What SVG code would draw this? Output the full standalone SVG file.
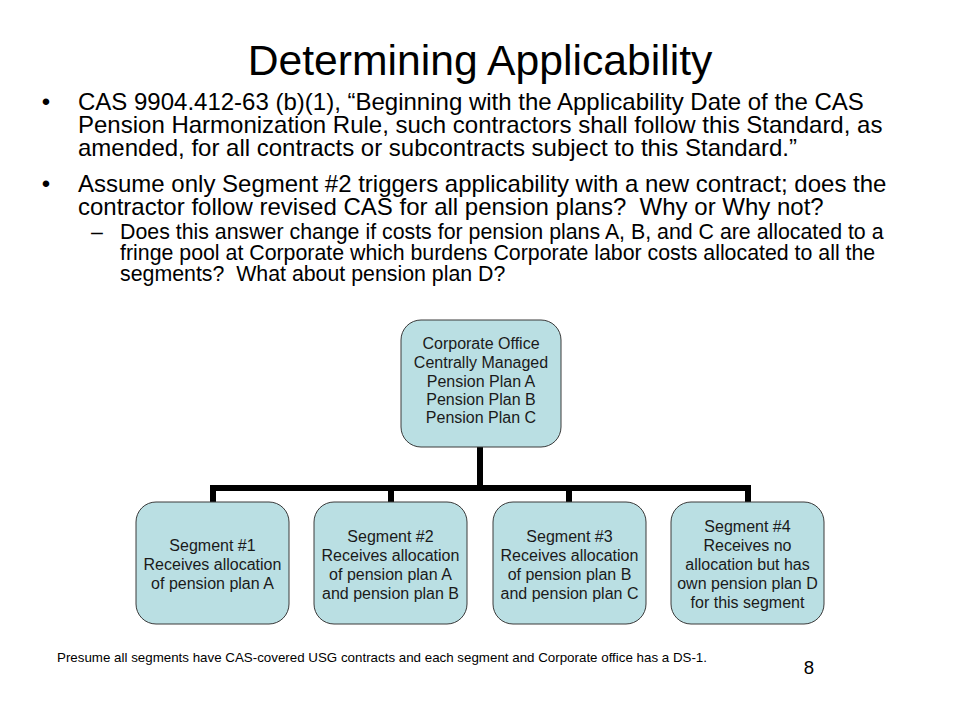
<svg xmlns="http://www.w3.org/2000/svg" width="960" height="720" viewBox="0 0 960 720">
<style>
.t{font-family:"Liberation Sans",Arial,sans-serif;fill:#000;white-space:pre}
.title{font-size:42.67px}
.b{font-size:24px}
.s{font-size:21.33px}
.box{fill:#badfe3;stroke:#3a3a3a;stroke-width:1}
.bt{font-family:"Liberation Sans",Arial,sans-serif;font-size:16px;fill:#1a1a1a;text-anchor:middle}
.con{fill:none;stroke:#000;stroke-width:6;stroke-linejoin:miter;stroke-linecap:butt}
</style>
<rect width="960" height="720" fill="#fff"/>
<text class="t title" x="480" y="75" text-anchor="middle">Determining Applicability</text>
<g id="body">
<text class="t b" x="46" y="110" text-anchor="middle">•</text>
<text class="t b" x="78" y="110">CAS 9904.412-63 (b)(1), “Beginning with the Applicability Date of the CAS</text>
<text class="t b" x="78" y="133">Pension Harmonization Rule, such contractors shall follow this Standard, as</text>
<text class="t b" x="78" y="156">amended, for all contracts or subcontracts subject to this Standard.”</text>
<text class="t b" x="46" y="192" text-anchor="middle">•</text>
<text class="t b" x="78" y="192">Assume only Segment #2 triggers applicability with a new contract; does the</text>
<text class="t b" x="78" y="215" xml:space="preserve">contractor follow revised CAS for all pension plans?  Why or Why not?</text>
<text class="t s" x="91" y="239">–</text>
<text class="t s" x="120" y="239">Does this answer change if costs for pension plans A, B, and C are allocated to a</text>
<text class="t s" x="120" y="260">fringe pool at Corporate which burdens Corporate labor costs allocated to all the</text>
<text class="t s" x="120" y="281" xml:space="preserve">segments?  What about pension plan D?</text>
</g>
<g id="connectors">
<path class="con" d="M480,447 V488"/>
<path class="con" d="M213,502 V488 H748 V502"/>
<path class="con" d="M391,488 V502"/>
<path class="con" d="M569,488 V502"/>
</g>
<g id="corporate">
<rect class="box" x="401" y="320" width="160" height="127" rx="20" ry="20"/>
<text class="bt" x="481" y="349">Corporate Office</text>
<text class="bt" x="481" y="368">Centrally Managed</text>
<text class="bt" x="481" y="387">Pension Plan A</text>
<text class="bt" x="481" y="405">Pension Plan B</text>
<text class="bt" x="481" y="423">Pension Plan C</text>
</g>
<g id="segment1">
<rect class="box" x="136" y="502" width="153" height="122" rx="20" ry="20"/>
<text class="bt" x="212.5" y="551">Segment #1</text>
<text class="bt" x="212.5" y="570">Receives allocation</text>
<text class="bt" x="212.5" y="589">of pension plan A</text>
</g>
<g id="segment2">
<rect class="box" x="314" y="502" width="153" height="122" rx="20" ry="20"/>
<text class="bt" x="390.5" y="542">Segment #2</text>
<text class="bt" x="390.5" y="561">Receives allocation</text>
<text class="bt" x="390.5" y="580">of pension plan A</text>
<text class="bt" x="390.5" y="599">and pension plan B</text>
</g>
<g id="segment3">
<rect class="box" x="493" y="502" width="153" height="122" rx="20" ry="20"/>
<text class="bt" x="569.5" y="542">Segment #3</text>
<text class="bt" x="569.5" y="561">Receives allocation</text>
<text class="bt" x="569.5" y="580">of pension plan B</text>
<text class="bt" x="569.5" y="599">and pension plan C</text>
</g>
<g id="segment4">
<rect class="box" x="671" y="502" width="153" height="122" rx="20" ry="20"/>
<text class="bt" x="747.5" y="532">Segment #4</text>
<text class="bt" x="747.5" y="551">Receives no</text>
<text class="bt" x="747.5" y="570">allocation but has</text>
<text class="bt" x="747.5" y="589">own pension plan D</text>
<text class="bt" x="747.5" y="608">for this segment</text>
</g>
<text class="t" x="57" y="662" font-size="13.33" textLength="650" lengthAdjust="spacingAndGlyphs">Presume all segments have CAS-covered USG contracts and each segment and Corporate office has a DS-1.</text>
<text class="t" x="809" y="674" font-size="18.67" text-anchor="middle">8</text>
</svg>
